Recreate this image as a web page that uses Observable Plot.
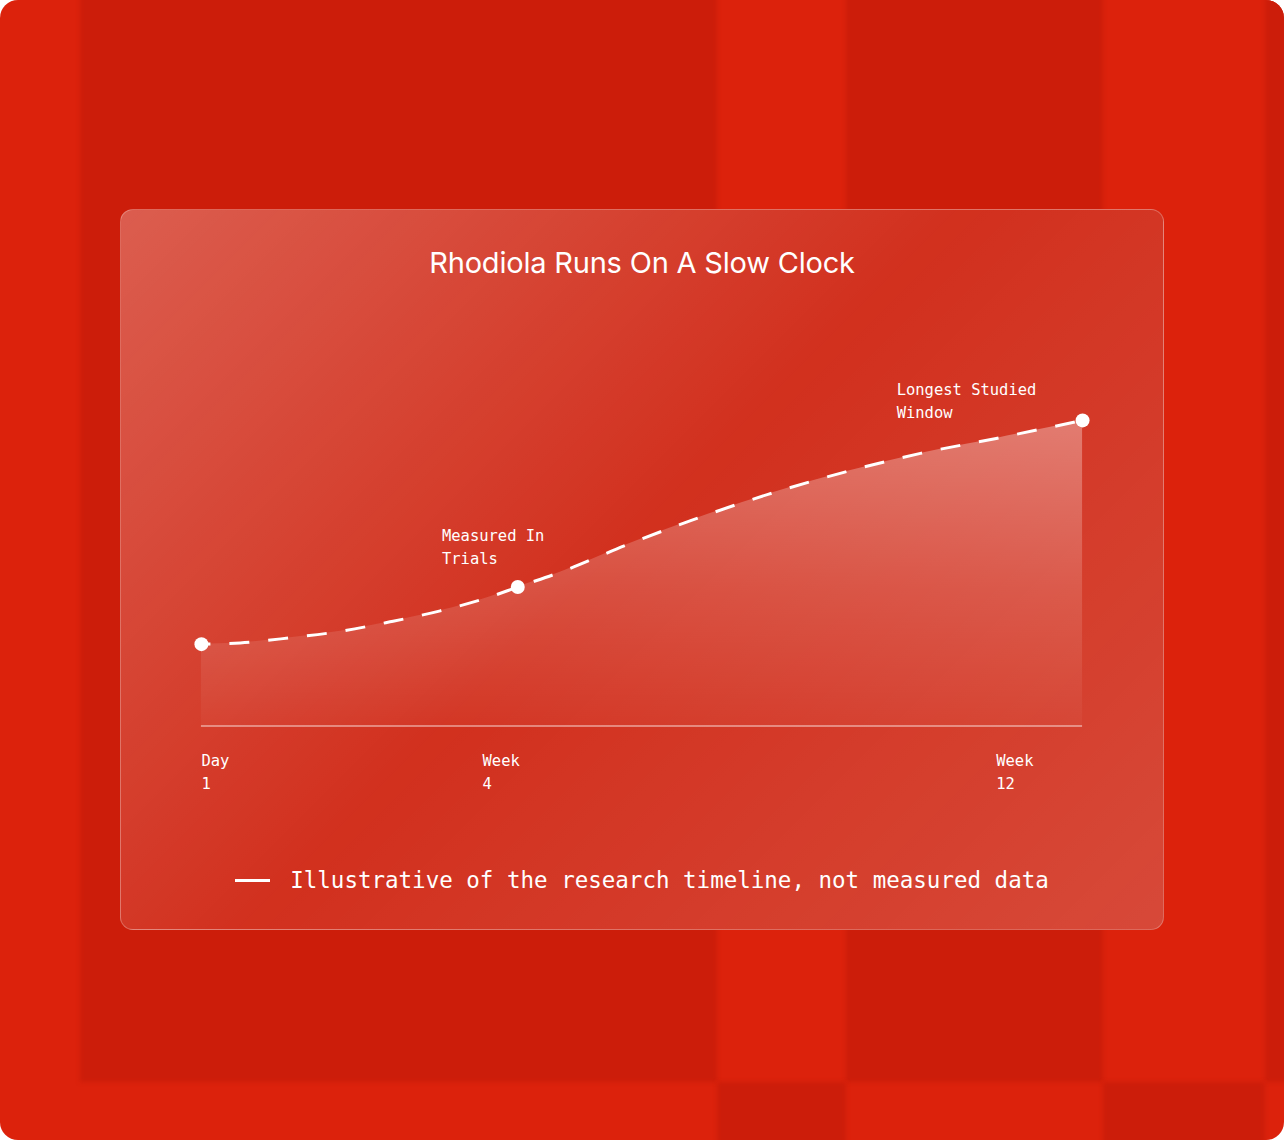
<!DOCTYPE html>
<html><head><meta charset="utf-8">
<script src="https://cdn.jsdelivr.net/npm/d3@7"></script>
<script src="https://cdn.jsdelivr.net/npm/@observablehq/plot@0.6"></script>
<style>
html,body{margin:0;padding:0;background:#fff;}
#page{position:relative;width:1284px;height:1140px;overflow:hidden;border-radius:18px;background:#dc220c;}
.blk{position:absolute;background:#cc1d0a;filter:blur(2px);}
#card{position:absolute;left:120px;top:209px;width:1042px;height:719px;border:1px solid rgba(255,255,255,0.26);border-radius:13px;
  background:linear-gradient(135deg, rgba(255,255,255,0.28) 0%, rgba(255,255,255,0.08) 48%, rgba(255,255,255,0.19) 100%), #ce1f0b;
  overflow:hidden;}
#title{position:absolute;left:0;right:0;top:36px;line-height:34px;text-align:center;font-family:Inter, "Noto Sans", sans-serif;font-size:29px;color:#fff;letter-spacing:-0.2px;}
#chart{position:absolute;left:-1px;top:90px;}
#legend{position:absolute;left:0;right:0;top:655px;height:30px;display:flex;justify-content:center;align-items:center;gap:20px;font-family:"DejaVu Sans Mono", monospace;font-size:22.5px;color:#fff;}
#legend .sw{width:35px;height:3px;background:#fff;}
</style></head>
<body>
<div id="page">
  <div class="blk" style="left:80px;top:-10px;width:637px;height:1092px"></div>
  <div class="blk" style="left:846px;top:-10px;width:257px;height:1092px"></div>
  <div class="blk" style="left:1265px;top:-10px;width:40px;height:1092px"></div>
  <div class="blk" style="left:717px;top:1082px;width:129px;height:80px"></div>
  <div class="blk" style="left:1103px;top:1082px;width:162px;height:80px"></div>
  <div id="card">
    <div id="title">Rhodiola Runs On A Slow Clock</div>
    <div id="chart"></div>
    <div id="legend"><div class="sw"></div><div>Illustrative of the research timeline, not measured data</div></div>
  </div>
</div>
<script>
// timeline position (0 = Day 1, 100 = end of Week 12) and illustrative level
const progress = [0, 4.4, 10.1, 15.8, 21.4, 27.1, 32.8, 35.9, 40.8, 48.2, 55.6, 64.3, 72.9, 81.6, 90.2, 100];
const effect   = [26.8, 27.2, 28.9, 31.0, 34.1, 37.7, 42.3, 45.5, 50.4, 59.2, 67.3, 75.8, 83.0, 89.2, 94.1, 100];
const markerProgress = [0, 35.9, 100];
const tickProgress = [0, 31.9, 90.2];
const tickLabels = ["Day\n1", "Week\n4", "Week\n12"];
const noteProgress = [27.3, 78.9];
const noteLevel = [65.9, 113.7];
const noteLabels = ["Measured In\nTrials", "Longest Studied\nWindow"];

const series = progress.map((p, i) => ({p, v: effect[i]}));
const markers = series.filter(d => markerProgress.includes(d.p));
const ticks = tickProgress.map((p, i) => ({p, label: tickLabels[i]}));
const notes = noteProgress.map((p, i) => ({p, v: noteLevel[i], label: noteLabels[i]}));

const mono = "DejaVu Sans Mono, monospace";

const defs = () => {
  const d = d3.create("svg:defs");
  const g = d.append("linearGradient").attr("id", "areaFade").attr("x1", 0).attr("y1", 0).attr("x2", 0).attr("y2", 1);
  g.append("stop").attr("offset", "0%").attr("stop-color", "#fff").attr("stop-opacity", 0.34);
  g.append("stop").attr("offset", "55%").attr("stop-color", "#fff").attr("stop-opacity", 0.15);
  g.append("stop").attr("offset", "100%").attr("stop-color", "#fff").attr("stop-opacity", 0.03);
  return d.node();
};

const chart = Plot.plot({
  width: 1044, height: 500,
  marginLeft: 81, marginRight: 81, marginTop: 120, marginBottom: 74,
  x: {domain: [0, 100], axis: null},
  y: {domain: [0, 100], axis: null},
  style: {background: "transparent", overflow: "visible"},
  marks: [
    defs,
    Plot.areaY(series, {x: "p", y: "v", curve: "monotone-x", fill: "url(#areaFade)"}),
    Plot.ruleY([0], {stroke: "white", strokeOpacity: 0.55, strokeWidth: 1.5}),
    Plot.line(series, {x: "p", y: "v", curve: "monotone-x", stroke: "white", strokeWidth: 3,
      strokeDasharray: "20 19", strokeDashoffset: 11, strokeLinecap: "butt"}),
    Plot.dot(markers, {x: "p", y: "v", r: 7, fill: "white", stroke: null}),
    Plot.text(ticks, {x: "p", text: "label", frameAnchor: "bottom", dy: 24, textAnchor: "start",
      lineAnchor: "top", lineHeight: 1.48, fill: "white", fontSize: 15.5, fontFamily: mono}),
    Plot.text(notes, {x: "p", y: "v", text: "label", textAnchor: "start", lineAnchor: "top",
      lineHeight: 1.48, fill: "white", fontSize: 15.5, fontFamily: mono})
  ]
});
document.getElementById("chart").appendChild(chart);
</script>
</body></html>
